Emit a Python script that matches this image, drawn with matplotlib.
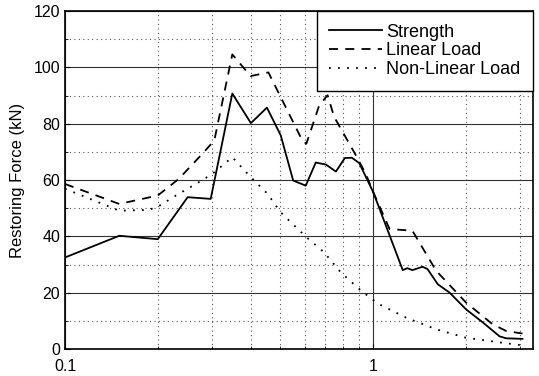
import numpy as np
import matplotlib.pyplot as plt
from matplotlib.ticker import FixedLocator, NullFormatter, MultipleLocator

plt.rcParams['font.family'] = ['Liberation Sans', 'DejaVu Sans']

# Strength
xs = [0.1, 0.15, 0.2, 0.25, 0.297, 0.349, 0.401, 0.452, 0.501, 0.55, 0.604,
      0.651, 0.702, 0.757, 0.809, 0.853, 0.901, 1.0, 1.247, 1.29, 1.34, 1.445,
      1.5, 1.62, 1.77, 2.0, 2.27, 2.57, 2.7, 3.05]
ys = [32.5, 40.2, 39, 53.9, 53.3, 90.7, 80.2, 85.7, 75.9, 59.8, 58,
      66.2, 65.5, 63, 67.8, 67.9, 66, 55.7, 28, 28.7, 28, 29.2,
      28.4, 23, 20, 14.1, 9.4, 4.5, 3.8, 3.6]

# Linear load
xl = [0.1, 0.15, 0.2, 0.234, 0.279, 0.305, 0.349, 0.4, 0.457, 0.589, 0.607,
      0.668, 0.711, 0.747, 0.867, 0.946, 1.0, 1.13, 1.34, 1.6, 2.0, 2.44,
      2.7, 3.05]
yl = [58.6, 51.5, 54.5, 60.4, 69.3, 74, 104.6, 96.9, 98.2, 74, 72.9,
      86.5, 90.1, 82.4, 69.9, 62.2, 55.7, 42.6, 42, 27.8, 16.5, 8.8,
      6.4, 5.5]

# Non-linear load
xn = [0.1, 0.15, 0.187, 0.2, 0.229, 0.266, 0.301, 0.349, 0.396, 0.454, 0.501,
      0.604, 0.693, 0.785, 0.901, 0.97, 1.045, 1.28, 1.6, 2.0, 2.63, 3.0]
yn = [56.9, 49.1, 49.4, 50.5, 54.5, 58.6, 62.2, 68.1, 61.6, 55.1, 48.5,
      39.9, 34.3, 27.2, 21.3, 18.5, 15.9, 11.1, 7, 4, 2.2, 1.4]

fig = plt.figure(figsize=(5.39, 3.76), dpi=100)
ax = fig.add_axes([0.1206, 0.0718, 0.8683, 0.8989])

ax.plot(xs, ys, color='black', lw=1.3, label='Strength')
ax.plot(xl, yl, color='black', lw=1.3, ls=(0, (5, 4)), label='Linear Load')
ax.plot(xn, yn, color='black', lw=1.3, ls=(0, (1, 4)), label='Non-Linear Load')

ax.set_xscale('log')
ax.set_xlim(0.1, 3.3)
ax.set_ylim(0, 120)
ax.xaxis.set_major_locator(FixedLocator([0.1, 1]))
ax.xaxis.set_minor_locator(FixedLocator([0.2, 0.3, 0.4, 0.5, 0.6, 0.7, 0.8, 0.9, 2, 3]))
ax.xaxis.set_minor_formatter(NullFormatter())
ax.set_xticklabels(['0.1', '1'])
ax.yaxis.set_major_locator(MultipleLocator(20))
ax.yaxis.set_minor_locator(MultipleLocator(10))

ax.grid(which='major', color='#333333', lw=0.8, ls='-')
ax.grid(which='minor', color='#555555', lw=0.8, ls=(0, (1, 3)))
ax.tick_params(which='both', direction='in', labelsize=11.5, top=False, right=False)
ax.tick_params(axis='x', pad=7)
for s in ax.spines.values():
    s.set_linewidth(1.2)

ax.set_ylabel('Restoring Force (kN)', fontsize=12, labelpad=6)

leg = ax.legend(loc='upper right', borderaxespad=0, fancybox=False, framealpha=1,
                edgecolor='black', fontsize=13, handlelength=2.9, labelspacing=0.1,
                borderpad=0.7, handletextpad=0.25)
leg.get_frame().set_linewidth(1.0)

fig.savefig('out.png', dpi=100)
